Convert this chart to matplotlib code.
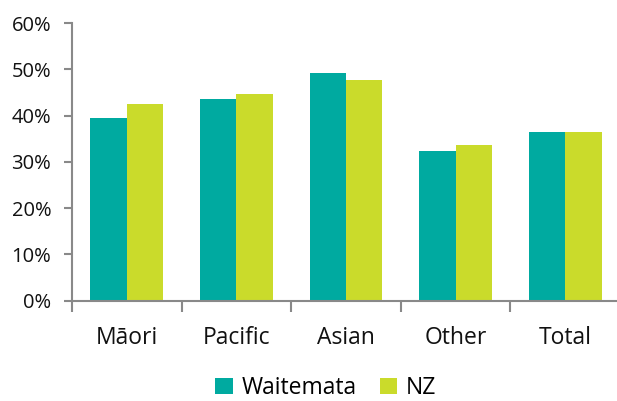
import matplotlib.pyplot as plt
import numpy as np
from matplotlib.ticker import PercentFormatter

categories = ["Māori", "Pacific", "Asian", "Other", "Total"]
waitemata = [39.4, 43.6, 49.3, 32.3, 36.4]
nz = [42.5, 44.7, 47.6, 33.6, 36.4]

teal = "#00AAA0"
lime = "#CADB2B"
axis_grey = "#898989"

plt.rcParams['font.family'] = ['Open Sans', 'DejaVu Sans']

fig = plt.figure(figsize=(6.17, 4.01), dpi=100)
ax = fig.add_axes([72 / 617, 0.2506, 548 / 617, 0.692])

x = np.arange(len(categories))
w = 0.332
ax.bar(x - w / 2, waitemata, w, color=teal, label="Waitemata")
ax.bar(x + w / 2, nz, w, color=lime, label="NZ")

ax.set_xlim(-0.5, len(categories) - 0.5)
ax.set_ylim(0, 60)
ax.set_yticks(range(0, 61, 10))
ax.yaxis.set_major_formatter(PercentFormatter(decimals=0))

# category ticks sit between the groups
ax.set_xticks(np.arange(-0.5, len(categories), 1.0))
ax.set_xticklabels([])
ax.set_xticks(x, minor=True)
ax.set_xticklabels(categories, minor=True, fontsize=16.5, color="#111111")
ax.tick_params(axis="x", which="minor", length=0, pad=18)
ax.tick_params(axis="x", which="major", length=8, width=1.5, color=axis_grey, direction="out")
ax.tick_params(axis="y", length=6, width=1.5, color=axis_grey, labelsize=14.5, labelcolor="#111111", pad=9)

for side in ["top", "right"]:
    ax.spines[side].set_visible(False)
for side in ["left", "bottom"]:
    ax.spines[side].set_color(axis_grey)
    ax.spines[side].set_linewidth(1.5)

ax.legend(loc="center", bbox_to_anchor=(326 / 617, 1 - 388 / 401), bbox_transform=fig.transFigure,
          ncol=2, frameon=False, fontsize=16.5, handlelength=0.75, handleheight=0.75,
          handletextpad=0.4, columnspacing=1.0, borderpad=0.2)

fig.savefig("out.png", dpi=100)
